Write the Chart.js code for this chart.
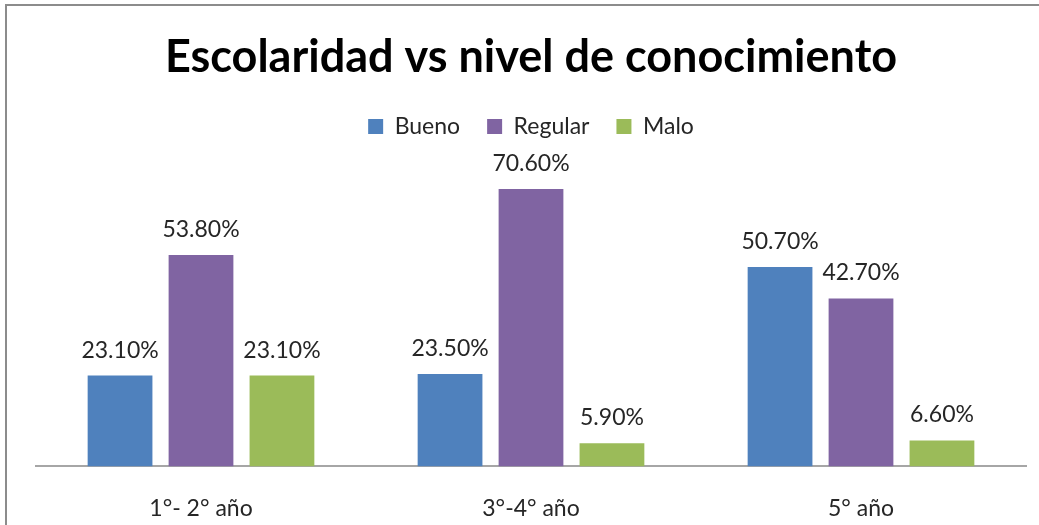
<!DOCTYPE html>
<html>
<head>
<meta charset="utf-8">
<script src="https://cdn.jsdelivr.net/npm/chart.js@4"></script>
<style>
  html, body { margin: 0; padding: 0; background: #fff; overflow: hidden; }
  canvas { display: block; }
</style>
</head>
<body>
<canvas id="chart" width="1039" height="525"></canvas>
<script>
const categories = ['1°- 2° año', '3°-4° año', '5° año'];
const seriesNames = ['Bueno', 'Regular', 'Malo'];
const bueno = [23.1, 23.5, 50.7];
const regular = [53.8, 70.6, 42.7];
const malo = [23.1, 5.9, 6.6];
const colors = ['#4F81BD', '#8064A2', '#9BBB59'];

const fontFamily = 'Lato, "Open Sans", sans-serif';

// frame line around the chart (only top and left are visible)
const framePlugin = {
    id: 'frame',
    beforeDraw(chart) {
        const c = chart.ctx;
        c.save();
        c.strokeStyle = '#8c8c8c';
        c.lineWidth = 2;
        c.beginPath();
        c.moveTo(6, chart.height + 5);
        c.lineTo(6, 5);
        c.lineTo(chart.width + 5, 5);
        c.stroke();
        c.restore();
    }
};

// value labels above each bar
const valueLabels = {
    id: 'valueLabels',
    afterDatasetsDraw(chart) {
        const c = chart.ctx;
        c.save();
        c.font = '23px ' + fontFamily;
        c.fillStyle = '#262626';
        c.textAlign = 'center';
        c.textBaseline = 'bottom';
        chart.data.datasets.forEach((ds, i) => {
            chart.getDatasetMeta(i).data.forEach((bar, j) => {
                c.fillText(ds.data[j].toFixed(2) + '%', bar.x, bar.y - 14);
            });
        });
        c.restore();
    }
};

const ctx = document.getElementById('chart').getContext('2d');
new Chart(ctx, {
    type: 'bar',
    data: {
        labels: categories,
        datasets: [
            { label: seriesNames[0], data: bueno, backgroundColor: colors[0] },
            { label: seriesNames[1], data: regular, backgroundColor: colors[1] },
            { label: seriesNames[2], data: malo, backgroundColor: colors[2] }
        ]
    },
    options: {
        responsive: false,
        animation: false,
        datasets: {
            bar: { categoryPercentage: 0.736, barPercentage: 0.8 }
        },
        layout: {
            padding: { left: 36, right: 13, top: 0, bottom: -25 }
        },
        scales: {
            x: {
                grid: { display: false, drawTicks: false },
                border: { color: '#a6a6a6', width: 2 },
                ticks: {
                    color: '#262626',
                    padding: 28,
                    font: { family: fontFamily, size: 23 }
                }
            },
            y: {
                display: false,
                min: 0,
                max: 81
            }
        },
        plugins: {
            title: {
                display: true,
                text: 'Escolaridad vs nivel de conocimiento',
                color: '#000',
                font: { family: fontFamily, size: 45, weight: 'bold' },
                padding: { top: 30, bottom: 4 }
            },
            legend: {
                labels: {
                    color: '#262626',
                    boxWidth: 15,
                    boxHeight: 15,
                    padding: 27,
                    font: { family: fontFamily, size: 23 }
                }
            },
            tooltip: { enabled: false }
        }
    },
    plugins: [framePlugin, valueLabels]
});
</script>
</body>
</html>
